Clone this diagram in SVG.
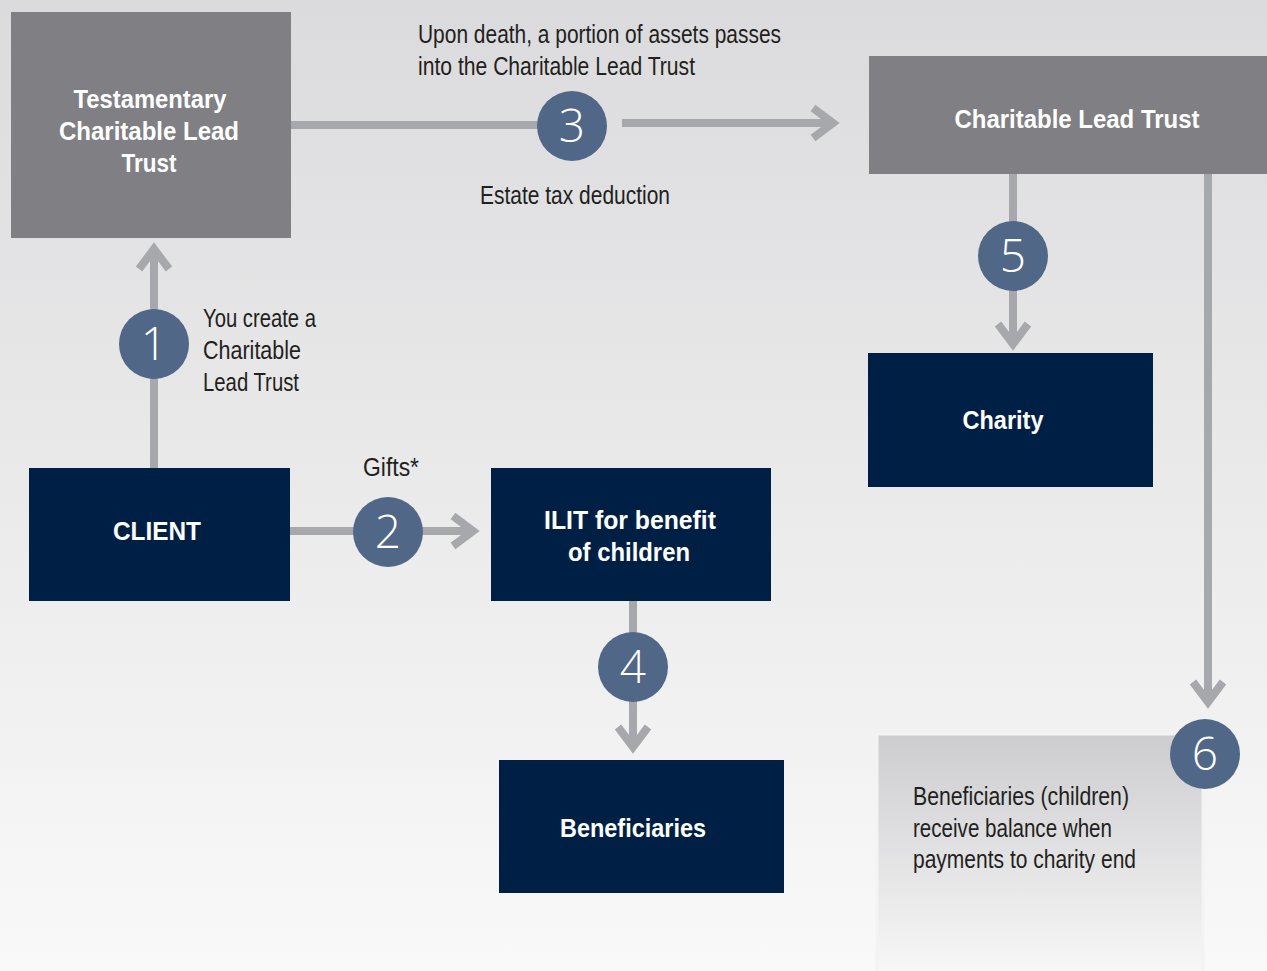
<svg xmlns="http://www.w3.org/2000/svg" width="1267" height="971" viewBox="0 0 1267 971">
<style>
.lbl{font-family:"Liberation Sans",Arial,sans-serif;font-size:25px;fill:#231f20}
.bold{font-family:"Liberation Sans",Arial,sans-serif;font-size:25px;font-weight:bold;fill:#ffffff;text-anchor:middle}
.num{font-family:"Open Sans","Liberation Sans",sans-serif;font-weight:300;font-size:46px;fill:#ffffff;text-anchor:middle}
.grey{fill:#807f84}
.navy{fill:#001f45}
.circ{fill:#516787}
.ln{stroke:#a7a8ab;stroke-width:8;fill:none}
</style>
<defs>
<linearGradient id="bg" x1="0" y1="0" x2="0" y2="1">
<stop offset="0" stop-color="#dbdbdd"/>
<stop offset="1" stop-color="#f9f9f9"/>
</linearGradient>
<linearGradient id="boxg" x1="0" y1="0" x2="0" y2="1">
<stop offset="0" stop-color="#cdcdd0"/>
<stop offset="1" stop-color="#f8f8f8"/>
</linearGradient>
<marker id="chev" markerUnits="userSpaceOnUse" markerWidth="40" markerHeight="40" viewBox="-30 -20 40 40" refX="0" refY="0" orient="auto">
<path d="M-20,-15 L0,0 L-20,15" stroke="#a7a8ab" stroke-width="8" fill="none" stroke-linejoin="miter"/>
</marker>
</defs>
<rect x="0" y="0" width="1267" height="971" fill="url(#bg)"/>

<g id="connectors">
<line class="ln" x1="154" y1="468" x2="154" y2="249" marker-end="url(#chev)"/>
<line class="ln" x1="290" y1="531" x2="473" y2="531" marker-end="url(#chev)"/>
<line class="ln" x1="291" y1="125" x2="545" y2="125"/>
<line class="ln" x1="622" y1="123" x2="833" y2="123" marker-end="url(#chev)"/>
<line class="ln" x1="633" y1="601" x2="633" y2="747" marker-end="url(#chev)"/>
<line class="ln" x1="1013" y1="174" x2="1013" y2="344" marker-end="url(#chev)"/>
<line class="ln" x1="1208" y1="174" x2="1208" y2="702" marker-end="url(#chev)"/>
</g>

<g id="testamentary">
<rect class="grey" x="11" y="12" width="280" height="226"/>
<text class="bold" x="150" y="108" textLength="153" lengthAdjust="spacingAndGlyphs">Testamentary</text>
<text class="bold" x="149" y="140" textLength="180" lengthAdjust="spacingAndGlyphs">Charitable Lead</text>
<text class="bold" x="149" y="172" textLength="55" lengthAdjust="spacingAndGlyphs">Trust</text>
</g>

<g id="clt">
<rect class="grey" x="869" y="56" width="398" height="118"/>
<text class="bold" x="1077" y="128" textLength="245" lengthAdjust="spacingAndGlyphs">Charitable Lead Trust</text>
</g>

<g id="charity">
<rect class="navy" x="868" y="353" width="285" height="134"/>
<text class="bold" x="1003" y="429" textLength="81" lengthAdjust="spacingAndGlyphs">Charity</text>
</g>

<g id="client">
<rect class="navy" x="29" y="468" width="261" height="133"/>
<text class="bold" x="157" y="540" textLength="88" lengthAdjust="spacingAndGlyphs">CLIENT</text>
</g>

<g id="ilit">
<rect class="navy" x="491" y="468" width="280" height="133"/>
<text class="bold" x="630" y="529" textLength="172" lengthAdjust="spacingAndGlyphs">ILIT for benefit</text>
<text class="bold" x="629" y="561" textLength="122" lengthAdjust="spacingAndGlyphs">of children</text>
</g>

<g id="beneficiaries">
<rect class="navy" x="499" y="760" width="285" height="133"/>
<text class="bold" x="633" y="837" textLength="146" lengthAdjust="spacingAndGlyphs">Beneficiaries</text>
</g>

<g id="balance">
<rect x="877" y="734" width="326" height="245" fill="url(#boxg)" stroke="#f3f3f3" stroke-width="3"/>
<text class="lbl" x="913" y="805" textLength="216" lengthAdjust="spacingAndGlyphs">Beneficiaries (children)</text>
<text class="lbl" x="913" y="837" textLength="199" lengthAdjust="spacingAndGlyphs">receive balance when</text>
<text class="lbl" x="913" y="868" textLength="223" lengthAdjust="spacingAndGlyphs">payments to charity end</text>
</g>

<g id="labels">
<text class="lbl" x="418" y="43" textLength="363" lengthAdjust="spacingAndGlyphs">Upon death, a portion of assets passes</text>
<text class="lbl" x="418" y="75" textLength="277" lengthAdjust="spacingAndGlyphs">into the Charitable Lead Trust</text>
<text class="lbl" x="480" y="204" textLength="190" lengthAdjust="spacingAndGlyphs">Estate tax deduction</text>
<text class="lbl" x="203" y="327" textLength="113" lengthAdjust="spacingAndGlyphs">You create a</text>
<text class="lbl" x="203" y="359" textLength="98" lengthAdjust="spacingAndGlyphs">Charitable</text>
<text class="lbl" x="203" y="391" textLength="96" lengthAdjust="spacingAndGlyphs">Lead Trust</text>
<text class="lbl" x="363" y="476" textLength="56" lengthAdjust="spacingAndGlyphs">Gifts*</text>
</g>

<g id="step1"><circle class="circ" cx="154" cy="344" r="35"/><text class="num" x="154" y="360">1</text></g>
<g id="step2"><circle class="circ" cx="388" cy="532" r="35"/><text class="num" x="388" y="548">2</text></g>
<g id="step3"><circle class="circ" cx="572" cy="126" r="35"/><text class="num" x="572" y="142">3</text></g>
<g id="step4"><circle class="circ" cx="633" cy="667" r="35"/><text class="num" x="633" y="683">4</text></g>
<g id="step5"><circle class="circ" cx="1013" cy="256" r="35"/><text class="num" x="1013" y="272">5</text></g>
<g id="step6"><circle class="circ" cx="1205" cy="754" r="35"/><text class="num" x="1205" y="770">6</text></g>
</svg>
